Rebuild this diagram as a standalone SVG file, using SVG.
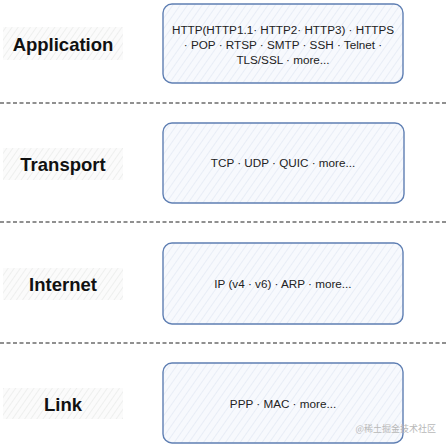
<svg xmlns="http://www.w3.org/2000/svg" width="448" height="447" viewBox="0 0 448 447">
<defs>
<pattern id="hb" width="6" height="6" patternUnits="userSpaceOnUse" patternTransform="rotate(35)">
<rect width="6" height="6" fill="#f7f9fd"/>
<line x1="0" y1="0" x2="0" y2="6" stroke="#dfe6f2" stroke-width="1.2"/>
</pattern>
<pattern id="hg" width="5" height="5" patternUnits="userSpaceOnUse" patternTransform="rotate(35)">
<rect width="5" height="5" fill="#fbfbfb"/>
<line x1="0" y1="0" x2="0" y2="5" stroke="#e6e8e6" stroke-width="1.2"/>
</pattern>
</defs>
<style>
.box{fill:url(#hb);stroke:#5f7fb3;stroke-width:1.4}
.lbg{fill:url(#hg);stroke:none}
.lab{font-family:"Liberation Sans","DejaVu Sans",sans-serif;font-weight:bold;font-size:18.5px;fill:#111;text-anchor:middle}
.txt{font-family:"Liberation Sans","DejaVu Sans",sans-serif;font-size:11.7px;fill:#222;text-anchor:middle}
.sep{stroke:#222;stroke-width:1.2;stroke-dasharray:4 2.5}
</style>
<g id="connectors">
<line class="sep" x1="0" y1="103" x2="448" y2="103"/>
<line class="sep" x1="0" y1="222" x2="448" y2="222"/>
<line class="sep" x1="0" y1="343" x2="448" y2="343"/>
</g>
<g id="application-label">
<rect class="lbg" x="3" y="27" width="120" height="33"/>
<text class="lab" x="63" y="51">Application</text>
</g>
<g id="application">
<rect class="box" x="163" y="4" width="240" height="79" rx="9"/>
<text class="txt" x="283" y="34">HTTP(HTTP1.1· HTTP2· HTTP3) · HTTPS</text>
<text class="txt" x="283" y="49">· POP · RTSP · SMTP · SSH · Telnet ·</text>
<text class="txt" x="283" y="64">TLS/SSL · more...</text>
</g>
<g id="transport-label">
<rect class="lbg" x="3" y="148" width="120" height="32"/>
<text class="lab" x="63" y="171">Transport</text>
</g>
<g id="transport">
<rect class="box" x="163" y="123" width="241" height="80" rx="9"/>
<text class="txt" x="283" y="167">TCP · UDP · QUIC · more...</text>
</g>
<g id="internet-label">
<rect class="lbg" x="3" y="268" width="120" height="32"/>
<text class="lab" x="63" y="291">Internet</text>
</g>
<g id="internet">
<rect class="box" x="163" y="243" width="240" height="81" rx="9"/>
<text class="txt" x="283" y="288">IP (v4 · v6) · ARP · more...</text>
</g>
<g id="link-label">
<rect class="lbg" x="3" y="388" width="120" height="31"/>
<text class="lab" x="63" y="411">Link</text>
</g>
<g id="link">
<rect class="box" x="163" y="363" width="240" height="80" rx="9"/>
<text class="txt" x="283" y="408">PPP · MAC · more...</text>
<text x="436" y="432" font-family="'Noto Sans CJK SC',sans-serif" font-size="9" fill="#b8b8b8" text-anchor="end">@稀土掘金技术社区</text>
</g>
</svg>
